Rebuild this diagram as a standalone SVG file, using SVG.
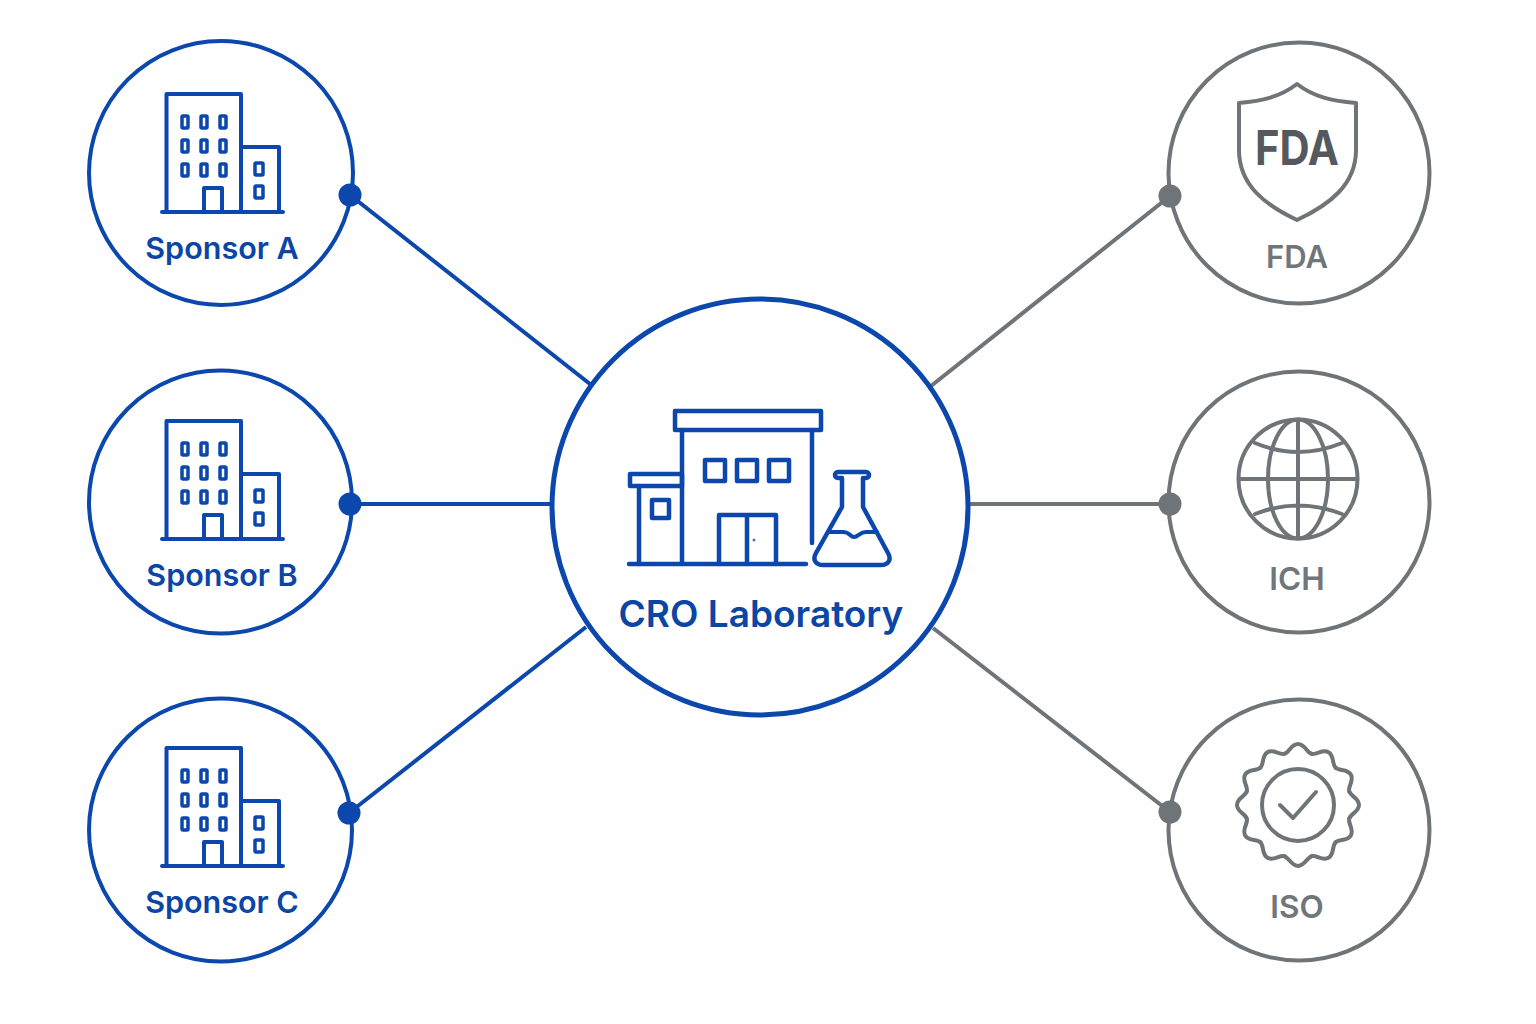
<svg xmlns="http://www.w3.org/2000/svg" xmlns:xlink="http://www.w3.org/1999/xlink" width="1536" height="1024" viewBox="0 0 1536 1024">
<style>
text{font-family:"Inter","Noto Sans","Liberation Sans",sans-serif;font-weight:600;text-anchor:middle}
.b{fill:none;stroke:#0b47ad;stroke-linejoin:round;stroke-linecap:round}
.g{fill:none;stroke:#6f7478;stroke-linejoin:round;stroke-linecap:round}
.ring{fill:#fff;stroke-width:4}
.i{stroke-width:4}
.w{stroke-width:3.5}
.bt{fill:#0b45a6}
.gt{fill:#71767a}
.bd{fill:#0b47ad}
.gd{fill:#6f7478}
</style>
<defs>
<g id="office">
<path class="b i" d="M166.500 212V94H241V212M241 147H279V212M162 212H283M204 212V188H222V212"/>
<g class="b w">
<rect x="182" y="116" width="6" height="12" rx="1"/><rect x="201" y="116" width="6" height="12" rx="1"/><rect x="220" y="116" width="6" height="12" rx="1"/>
<rect x="182" y="140" width="6" height="12" rx="1"/><rect x="201" y="140" width="6" height="12" rx="1"/><rect x="220" y="140" width="6" height="12" rx="1"/>
<rect x="182" y="164" width="6" height="12" rx="1"/><rect x="201" y="164" width="6" height="12" rx="1"/><rect x="220" y="164" width="6" height="12" rx="1"/>
<rect x="255" y="163" width="8" height="12" rx="1"/><rect x="255" y="186" width="8" height="12" rx="1"/>
</g>
</g>
<path id="lobe" d="M-13.7 -51.2C-8.7 -52.500 -7 -61 0 -61C7 -61 8.7 -52.500 13.7 -51.2"/>
</defs>
<rect width="1536" height="1024" fill="#fefefe"/>
<g id="connectors" stroke-width="4" fill="none">
<path stroke="#0b47ad" d="M350 195L590 384M350 504H551M349 813L586 627"/>
<path stroke="#6f7478" d="M1170 196L931 386M1170 504H970M1170 812L933 628"/>
</g>
<g id="sponsor-a">
<circle class="b ring" cx="221" cy="173" r="132"/>
<use xlink:href="#office" href="#office"/>
<text class="bt" x="222" y="259" font-size="30.500">Sponsor A</text>
<circle class="bd" cx="350" cy="195" r="11.500"/>
</g>
<g id="sponsor-b">
<circle class="b ring" cx="220.500" cy="502" r="131.500"/>
<use xlink:href="#office" href="#office" y="327"/>
<text class="bt" x="222" y="586" font-size="30.500">Sponsor B</text>
<circle class="bd" cx="350" cy="504" r="11.500"/>
</g>
<g id="sponsor-c">
<circle class="b ring" cx="220.500" cy="830" r="131.500"/>
<use xlink:href="#office" href="#office" y="654"/>
<text class="bt" x="222" y="913" font-size="30.500">Sponsor C</text>
<circle class="bd" cx="349" cy="813" r="11.500"/>
</g>
<g id="cro-laboratory">
<circle class="b" style="fill:#fff" stroke-width="5" cx="760" cy="507" r="208"/>
<g class="b" stroke-width="4.500">
<rect x="675" y="411" width="146" height="19"/>
<path d="M682 430V564M812 430V543M629 564H806"/>
<rect x="705" y="460" width="20" height="21"/><rect x="737" y="460" width="20" height="21"/><rect x="769" y="460" width="20" height="21"/>
<rect x="630" y="474" width="52" height="12"/>
<path d="M639 486V564"/>
<rect x="652" y="500" width="17" height="18"/>
<path d="M719 564V515H776V564M747 515V564"/>
<path d="M842 478V507L816 553C812 560 816 565 823 565H881C888 565 892 560 888 553L863 507V478H866C870 478 870 472 866 472H838C834 472 834 478 838 478Z"/>
<path d="M830 532H843C850 532 850 537 854 537C858 537 860 532 866 532H877" stroke-width="4"/>
</g>
<circle cx="754" cy="540" r="1.500" fill="#4a74c0"/>
<text class="bt" x="761" y="627" font-size="37">CRO Laboratory</text>
</g>
<g id="fda">
<circle class="g ring" cx="1299" cy="173" r="130.500"/>
<path class="g i" d="M1297 84C1280 97 1262 101 1239 103L1239 150C1239 185 1265 205 1297 220C1329 205 1356 185 1356 150L1356 103C1332 101 1314 97 1297 84Z"/>
<text x="1297" y="165" font-size="48" fill="#55595e" style="font-weight:700" textLength="84" lengthAdjust="spacingAndGlyphs">FDA</text>
<text class="gt" x="1297" y="268" font-size="31">FDA</text>
<circle class="gd" cx="1170" cy="196" r="11.500"/>
</g>
<g id="ich">
<circle class="g ring" cx="1299" cy="502" r="130.500"/>
<g class="g i">
<circle cx="1298" cy="479" r="59.500"/>
<ellipse cx="1298" cy="479" rx="30" ry="59.500"/>
<path d="M1298 420V538M1239 479H1357M1255 443Q1298 461 1342 443M1255 514Q1298 497 1342 514"/>
</g>
<text class="gt" x="1297" y="590" font-size="31.500">ICH</text>
<circle class="gd" cx="1170" cy="504" r="11.500"/>
</g>
<g id="iso">
<circle class="g ring" cx="1299" cy="830" r="130.500"/>
<g class="g i" transform="translate(1298 805)">
<use xlink:href="#lobe" href="#lobe"/><use xlink:href="#lobe" href="#lobe" transform="rotate(30)"/><use xlink:href="#lobe" href="#lobe" transform="rotate(60)"/><use xlink:href="#lobe" href="#lobe" transform="rotate(90)"/><use xlink:href="#lobe" href="#lobe" transform="rotate(120)"/><use xlink:href="#lobe" href="#lobe" transform="rotate(150)"/><use xlink:href="#lobe" href="#lobe" transform="rotate(180)"/><use xlink:href="#lobe" href="#lobe" transform="rotate(210)"/><use xlink:href="#lobe" href="#lobe" transform="rotate(240)"/><use xlink:href="#lobe" href="#lobe" transform="rotate(270)"/><use xlink:href="#lobe" href="#lobe" transform="rotate(300)"/><use xlink:href="#lobe" href="#lobe" transform="rotate(330)"/>
<circle r="36"/>
<path d="M-18 0L-5 13L18 -13"/>
</g>
<text class="gt" x="1297" y="918" font-size="31.500">ISO</text>
<circle class="gd" cx="1170" cy="812" r="11.500"/>
</g>
</svg>
